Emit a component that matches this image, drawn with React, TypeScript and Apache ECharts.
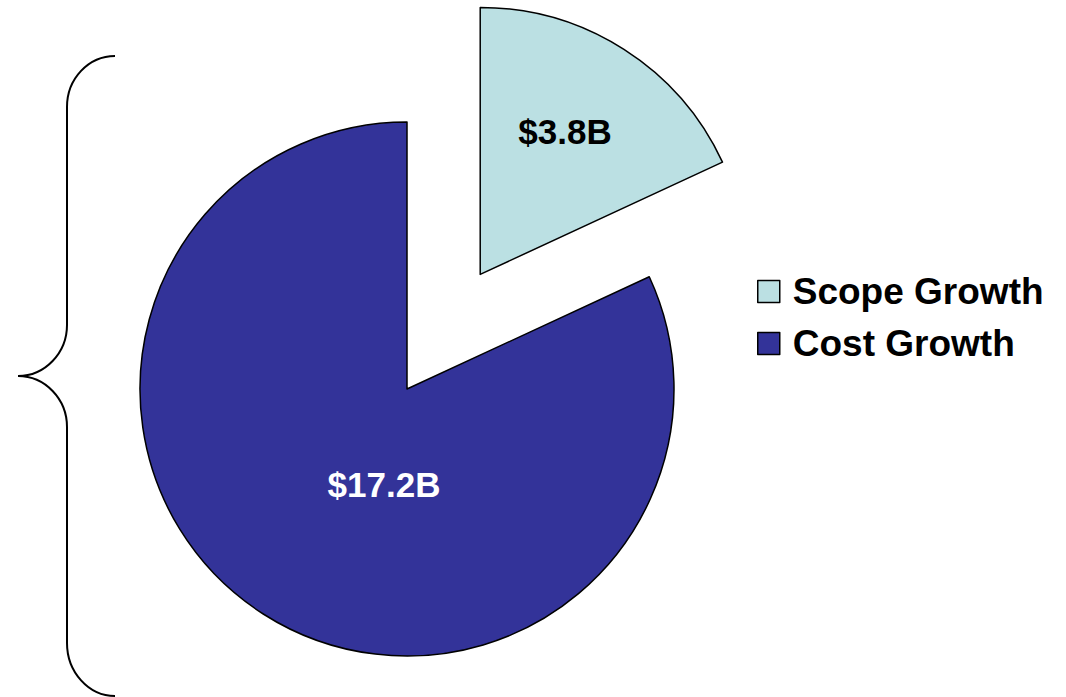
import React, { useEffect, useRef } from "react";
import * as echarts from "echarts";

const categories = ["Scope Growth", "Cost Growth"];
const values = [3.8, 17.2];
const sliceColors = ["#BBE0E3", "#333399"];
const labelColors = ["#000000", "#FFFFFF"];
const labelPos = [
  [565, 131],
  [384, 484],
];

const BRACE_D =
  "M115,56 C88.5,56 67,78.8 67,107 L67,325 C67,353 45,376 18,376 C45,376 67,399 67,427 L67,643 C67,672 88.5,696 115,696";

export default function App() {
  const ref = useRef<HTMLDivElement>(null);
  useEffect(() => {
    if (!ref.current) return;
    try {
      echarts.graphic.registerShape("brace", echarts.graphic.extendPath(BRACE_D, {}));
    } catch (e) {}
    const chart = echarts.init(ref.current, null, { renderer: "svg" });
    const font = "'Liberation Sans', Arial, sans-serif";
    chart.setOption({
      animation: false,
      backgroundColor: "#FFFFFF",
      legend: {
        orient: "vertical",
        left: 757,
        top: 273,
        padding: 0,
        itemWidth: 22,
        itemHeight: 22,
        itemGap: 15,
        icon: "rect",
        selectedMode: false,
        itemStyle: { borderColor: "#000", borderWidth: 1.5 },
        textStyle: {
          fontFamily: font,
          fontWeight: "bold",
          fontSize: 37,
          lineHeight: 36,
          color: "#000",
          padding: [0, 0, 0, 8],
        },
        data: categories,
      },
      graphic: [
        {
          type: "brace",
          x: 0,
          y: 0,
          style: { fill: "none", stroke: "#000", lineWidth: 2 },
        },
        ...values.map((v, i) => ({
          type: "text",
          x: labelPos[i][0],
          y: labelPos[i][1],
          z: 100,
          style: {
            text: "$" + v.toFixed(1) + "B",
            fill: labelColors[i],
            font: "bold 35px " + font,
            align: "center",
            verticalAlign: "middle",
          },
        })),
      ],
      series: [
        {
          type: "pie",
          center: [407, 389],
          radius: 267,
          startAngle: 90,
          clockwise: true,
          selectedMode: "single",
          selectedOffset: 136,
          avoidLabelOverlap: false,
          emphasis: { disabled: true },
          itemStyle: { borderColor: "#000", borderWidth: 1.5 },
          label: { show: false },
          labelLine: { show: false },
          data: categories.map((name, i) => ({
            name,
            value: values[i],
            selected: i === 0,
            itemStyle: { color: sliceColors[i] },
          })),
        },
      ],
    });
    return () => chart.dispose();
  }, []);
  return (
    <div
      ref={ref}
      style={{ position: "fixed", left: 0, top: 0, width: 1066, height: 697 }}
    />
  );
}
